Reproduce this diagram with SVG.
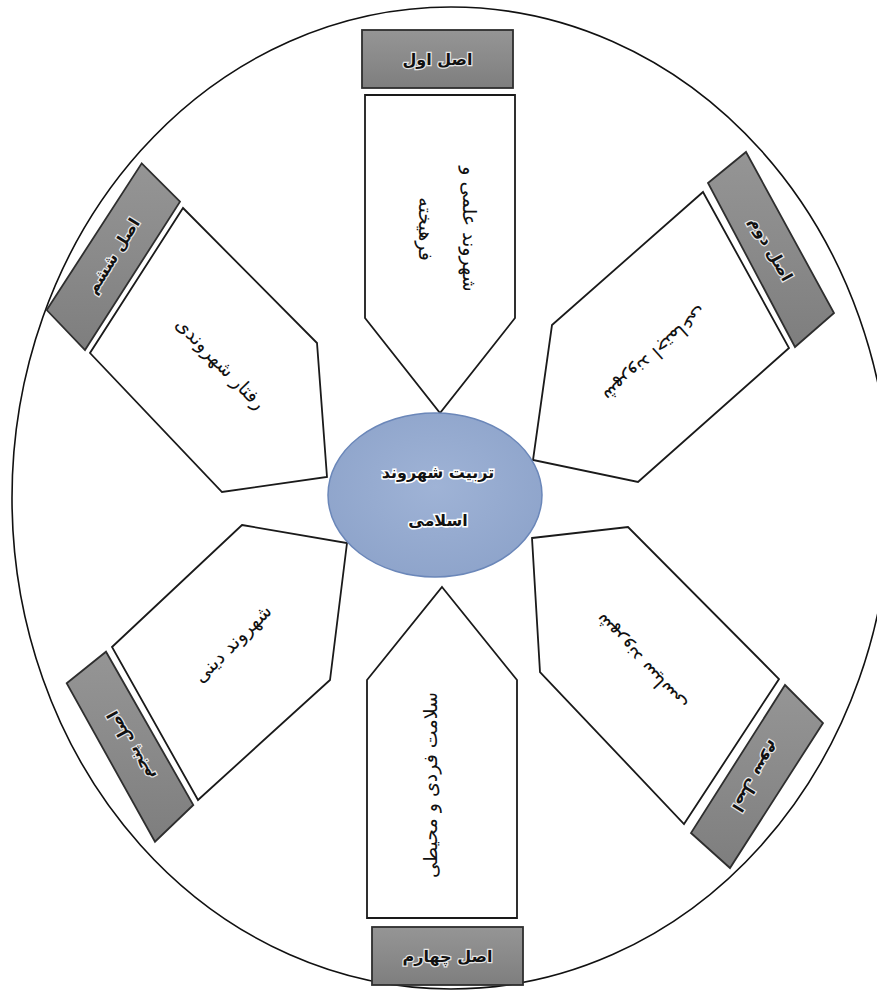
<svg xmlns="http://www.w3.org/2000/svg" width="877" height="993" viewBox="0 0 877 993">
<defs>
<linearGradient id="gLabel" x1="0" y1="0" x2="0" y2="1">
<stop offset="0" stop-color="#959595"/>
<stop offset="0.5" stop-color="#8a8a8a"/>
<stop offset="1" stop-color="#7e7e7e"/>
</linearGradient>
<radialGradient id="gCenter" cx="0.5" cy="0.45" r="0.6">
<stop offset="0" stop-color="#9fb3d6"/>
<stop offset="1" stop-color="#8da3ca"/>
</radialGradient>
</defs>
<style>
.outer{fill:#fff;stroke:#111;stroke-width:1.6}
.pent{fill:#fff;stroke:#1a1a1a;stroke-width:1.8;stroke-linejoin:miter}
.lab{fill:url(#gLabel);stroke:#2e2e2e;stroke-width:1.8}
.lt{font-family:"DejaVu Sans",sans-serif;font-size:16px;font-weight:bold;fill:#111;stroke:#e6e6e6;stroke-width:2.5;paint-order:stroke;text-anchor:middle;dominant-baseline:central}
.pt{font-family:"DejaVu Sans",sans-serif;font-size:19px;fill:#111;text-anchor:middle;dominant-baseline:central}
.ct{font-family:"DejaVu Sans",sans-serif;font-size:16px;font-weight:bold;fill:#111;stroke:#fff;stroke-width:3;paint-order:stroke;text-anchor:middle;dominant-baseline:central}
</style>
<rect width="877" height="993" fill="#fff"/>
<ellipse class="outer" cx="451" cy="498" rx="439" ry="491"/>
<g id="connectors"></g>
<g id="node-top">
<rect class="lab" x="362" y="30" width="151" height="58"/>
<text class="lt" x="437.5" y="59" direction="rtl">اصل اول</text>
<polygon class="pent" points="365,95 515,95 515,318 440,413 365,318"/>
<g transform="translate(448,229) rotate(90)">
<text class="pt" x="0" y="-22" direction="rtl">شهروند علمی و</text>
<text class="pt" x="0" y="22" direction="rtl">فرهیخته</text>
</g>
</g>
<g id="node-upper-right">
<polygon class="lab" points="746,152 834,313 795,347 708,183"/>
<text class="lt" transform="translate(771,249) rotate(61)" direction="rtl">اصل دوم</text>
<polygon class="pent" points="703,192 789,348 638,482 533,460 552,325"/>
<text class="pt" transform="translate(656,355) rotate(138)" direction="rtl">شهروند اجتماعی</text>
</g>
<g id="node-lower-right">
<polygon class="lab" points="785,685 823,723 730,868 691,833"/>
<text class="lt" transform="translate(757,777) rotate(122)" direction="rtl">اصل سوم</text>
<polygon class="pent" points="532,538 628,527 779,679 684,824 540,672"/>
<text class="pt" transform="translate(640,663) rotate(-133)" direction="rtl">شهروند سیاسی</text>
</g>
<g id="node-bottom">
<rect class="lab" x="372" y="927" width="151" height="58"/>
<text class="lt" x="447.5" y="956" direction="rtl">اصل چهارم</text>
<polygon class="pent" points="442,587 517,680 517,918 367,918 367,680"/>
<text class="pt" transform="translate(430,785) rotate(-90)" direction="rtl">سلامت فردی و محیطی</text>
</g>
<g id="node-lower-left">
<polygon class="lab" points="66.7,683.3 106,651.7 193.3,805 155,841.7"/>
<text class="lt" transform="translate(130,746) rotate(-119)" direction="rtl">اصل پنجم</text>
<polygon class="pent" points="242,525 347,543 330,680 198,800 112,647"/>
<text class="pt" transform="translate(232,643) rotate(-45)" direction="rtl">شهروند دینی</text>
</g>
<g id="node-upper-left">
<polygon class="lab" points="46.7,310 141.7,163.3 180,201.7 85,350"/>
<text class="lt" transform="translate(113,256) rotate(-58)" direction="rtl">اصل ششم</text>
<polygon class="pent" points="183,208 317,343 327,477 222,492 90,353"/>
<text class="pt" transform="translate(221,363) rotate(46)" direction="rtl">رفتار شهروندی</text>
</g>
<g id="node-center">
<ellipse cx="435" cy="495" rx="107" ry="82" fill="url(#gCenter)" stroke="#6b87b9" stroke-width="1.5"/>
<text class="ct" x="438" y="472" direction="rtl">تربیت شهروند</text>
<text class="ct" x="438" y="520" direction="rtl">اسلامی</text>
</g>
</svg>
